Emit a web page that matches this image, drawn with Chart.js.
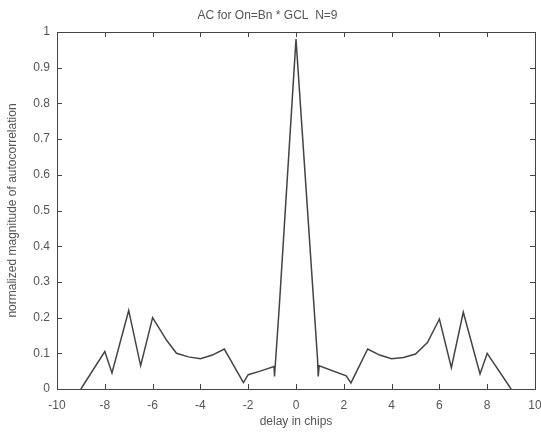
<!DOCTYPE html>
<html>
<head>
<meta charset="utf-8">
<title>AC for On=Bn * GCL N=9</title>
<script src="https://cdn.jsdelivr.net/npm/chart.js@4/dist/chart.umd.min.js"></script>
<style>
  html, body { margin: 0; padding: 0; background: #fff; }
  #wrap { width: 541px; height: 432px; }
</style>
</head>
<body>
<div id="wrap"><canvas id="graficoAC"></canvas></div>
<script>
// delay (chips) and normalized autocorrelation
const delays = [-9, -8, -7.7, -7, -6.5, -6, -5.4, -5, -4.5, -4, -3.5, -3, -2.2, -2, -1.5, -0.92, -0.9, -0.7, 0,
  0.9, 0.93, 0.97, 2.1, 2.3, 3, 3.5, 4, 4.5, 5, 5.5, 6, 6.5, 7, 7.7, 8, 9];
const magnitudes = [0, 0.105, 0.045, 0.22, 0.065, 0.2, 0.135, 0.1, 0.09, 0.085, 0.095, 0.112, 0.018, 0.04, 0.05, 0.063, 0.035, 0.23, 0.98,
  0.085, 0.035, 0.065, 0.037, 0.017, 0.112, 0.095, 0.085, 0.088, 0.098, 0.13, 0.196, 0.06, 0.215, 0.042, 0.1, 0];

const xTicks = [-10, -8, -6, -4, -2, 0, 2, 4, 6, 8, 10];
const yTicks = [0, 0.1, 0.2, 0.3, 0.4, 0.5, 0.6, 0.7, 0.8, 0.9, 1];

const colorTexto = "#555";
const colorLinea = "#444";

// MATLAB style box with the ticks pointing inside, on all four sides
const cajaPlugin = {
  id: "caja",
  afterDraw(chart) {
    const { ctx, chartArea: a, scales } = chart;
    ctx.save();
    ctx.strokeStyle = colorLinea;
    ctx.lineWidth = 1;
    ctx.strokeRect(a.left + 0.5, a.top + 0.5, a.right - a.left, a.bottom - a.top);
    const largo = 5;
    ctx.beginPath();
    xTicks.forEach((v) => {
      const px = Math.round(scales.x.getPixelForValue(v)) + 0.5;
      ctx.moveTo(px, a.bottom); ctx.lineTo(px, a.bottom - largo);
      ctx.moveTo(px, a.top); ctx.lineTo(px, a.top + largo);
    });
    yTicks.forEach((v) => {
      const py = Math.round(scales.y.getPixelForValue(v)) + 0.5;
      ctx.moveTo(a.left, py); ctx.lineTo(a.left + largo, py);
      ctx.moveTo(a.right, py); ctx.lineTo(a.right - largo, py);
    });
    ctx.stroke();
    ctx.restore();
  }
};

const puntos = delays.map((d, i) => ({ x: d, y: magnitudes[i] }));

new Chart(document.getElementById("graficoAC").getContext("2d"), {
  type: "scatter",
  data: {
    datasets: [
      {
        data: puntos,
        showLine: true,
        borderColor: colorLinea,
        borderWidth: 1.5,
        pointRadius: 0,
        tension: 0,
      },
    ],
  },
  options: {
    responsive: true,
    maintainAspectRatio: false,
    animation: false,
    layout: { padding: { right: 6 } },
    plugins: {
      legend: { display: false },
      tooltip: { enabled: false },
      title: {
        display: true,
        text: "AC for On=Bn * GCL  N=9",
        color: colorTexto,
        font: { family: "Liberation Sans", size: 12, weight: "normal" },
        padding: { top: 8, bottom: 9.6 },
      },
    },
    scales: {
      x: {
        type: "linear",
        min: -10,
        max: 10,
        afterFit: (s) => { s.height = 43; s.paddingLeft = 0; s.paddingRight = 0; },
        afterBuildTicks: (s) => { s.ticks = xTicks.map((v) => ({ value: v })); },
        grid: { display: false, drawTicks: false },
        border: { display: false },
        ticks: {
          color: colorTexto,
          padding: 9,
          font: { family: "Liberation Sans", size: 12 },
          callback: (v) => String(v),
        },
        title: {
          display: true,
          text: "delay in chips",
          color: colorTexto,
          font: { family: "Liberation Sans", size: 12 },
          padding: { top: 0, bottom: 3 },
        },
      },
      y: {
        type: "linear",
        min: 0,
        max: 1,
        afterFit: (s) => { s.width = 57; },
        afterBuildTicks: (s) => { s.ticks = yTicks.map((v) => ({ value: v })); },
        grid: { display: false, drawTicks: false },
        border: { display: false },
        ticks: {
          color: colorTexto,
          padding: 7,
          font: { family: "Liberation Sans", size: 12 },
          callback: (v) => String(v),
        },
        title: {
          display: true,
          text: "normalized magnitude of autocorrelation",
          color: colorTexto,
          font: { family: "Liberation Sans", size: 12 },
          padding: { top: 5, bottom: 0 },
        },
      },
    },
  },
  plugins: [cajaPlugin],
});
</script>
</body>
</html>
